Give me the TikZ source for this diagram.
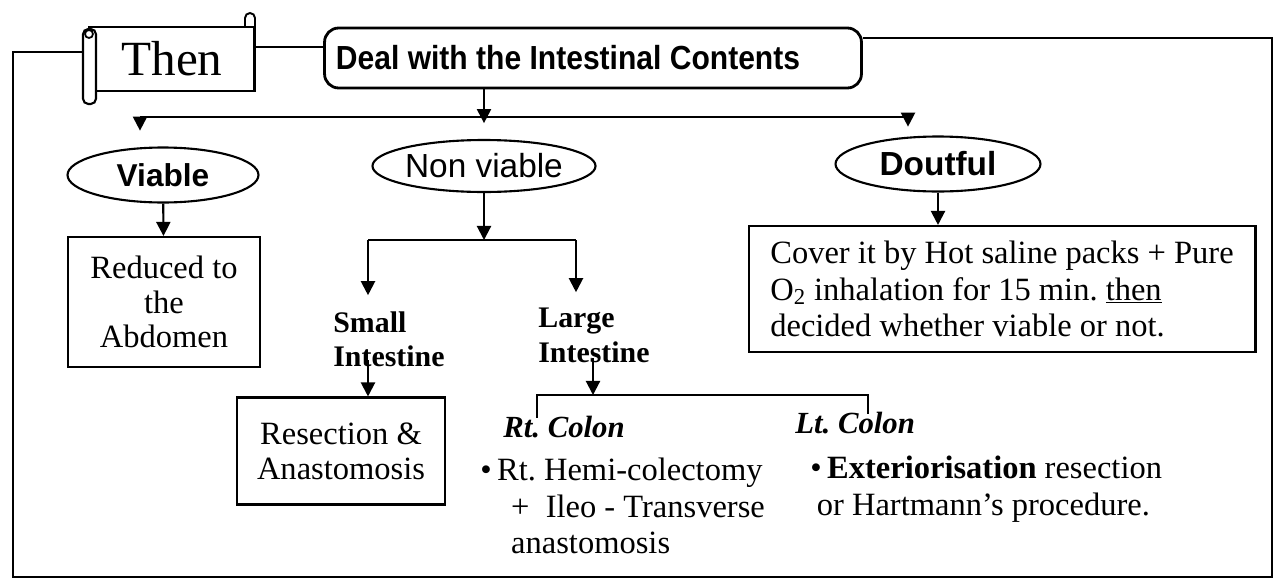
\documentclass[tikz,border=0pt]{standalone}
\usepackage{fontspec}
\setmainfont{Liberation Serif}
\newfontfamily\ovalfont{Liberation Sans}
\usetikzlibrary{shapes.geometric, arrows.meta, positioning}
\frenchspacing

\tikzset{
  frame/.style={line width=1.3pt},
  arr/.style={line width=1.2pt, -{Triangle[width=8pt,length=8pt]}},
  oval/.style={ellipse, draw, line width=1.2pt, inner sep=0pt,
    minimum width=3.82cm, minimum height=1.1cm,
    font=\ovalfont\bfseries\fontsize{18}{20}\selectfont},
  plainbox/.style={draw, line width=1.2pt, inner sep=0pt, align=center,
    font=\fontsize{18.5}{19.8}\selectfont},
  organ/.style={inner sep=0pt, anchor=north west, align=left,
    font=\bfseries\fontsize{17}{19.8}\selectfont},
  colon/.style={inner sep=0pt, anchor=base west,
    font=\bfseries\itshape\fontsize{17.5}{19.8}\selectfont},
  step text/.style={inner sep=0pt, anchor=north west, align=left,
    font=\fontsize{18.5}{20.6}\selectfont},
}

\begin{document}
\begin{tikzpicture}[x=0.02cm, y=-0.02cm]
    \useasboundingbox (0,0) rectangle (1277,585);

    % scroll with the word Then
    \node[draw, line width=1.2pt, minimum width=3.3cm, minimum height=1.28cm,
      inner sep=0pt, font=\fontsize{28}{30}\selectfont] (then) at (172,59) {Then};
    \draw[line width=1.2pt, fill=white, rounded corners=3pt] (83,29) rectangle (96,104);
    \draw[line width=1pt] (89,34) circle (4);
    \draw[line width=1.1pt] (245,27) -- (245,18) arc[start angle=180, end angle=360, radius=5] -- (255,27);

    \node[plainbox, rounded corners=8pt, minimum width=10.74cm, minimum height=1.2cm,
      line width=1.6pt] (deal) at (593,58)
      {\scalebox{0.9}[1]{\ovalfont\bfseries\fontsize{19}{21}\selectfont Deal with the Intestinal Contents}\hspace{1cm}};

    % outer frame
    \draw[frame] (83,52) -| (13,577) -| (1272,38) -- (deal.east |- 0,38);
    \draw[frame] (then.east |- 0,47) -- (deal.west |- 0,47);

    \node[oval] (viable) at (163,175) {Viable};
    \node[oval, minimum width=3.84cm, minimum height=1.04cm,
      font=\ovalfont\fontsize{19}{21}\selectfont] (nonviable) at (484,166) {Non viable};
    \node[oval, minimum width=4.1cm, font=\ovalfont\bfseries\fontsize{19}{21}\selectfont]
      (doubt) at (938,164) {Doutful};

    \coordinate (b1) at (140,117);
    \coordinate (b3) at (908,117);
    \draw[frame] (b1) -- (b3);
    \draw[arr, shorten >=9pt] (deal.south -| nonviable) -- (nonviable.north);
    \draw[arr, shorten >=9pt] (b1) -- (b1 |- viable.north);
    \draw[arr, shorten >=5pt] (b3) -- (b3 |- doubt.north);

    \node[plainbox, minimum width=3.84cm, minimum height=2.6cm] (reduced) at (164,302)
      {Reduced to\\the\\Abdomen};
    \draw[arr] (viable) -- (reduced);

    \node[plainbox, align=left, minimum width=10.14cm, minimum height=2.52cm,
      font=\fontsize{18.5}{20.6}\selectfont] (cover) at (1002,289)
      {Cover it by Hot saline packs + Pure\\
       O\textsubscript{2} inhalation for 15 min. \underline{then}\\
       decided whether viable or not.};
    \draw[arr] (doubt.south) -- (doubt.south |- cover.north);

    % non viable branch
    \coordinate (s1) at (368,240);
    \coordinate (s2) at (576,240);
    \draw[arr] (nonviable.south) -- (nonviable.south |- s1);
    \draw[frame] (s1) -- (s2);
    \node[organ] (small) at (333,311) {Small\\Intestine};
    \node[organ] (large) at (538,308) {Large\\Intestine};
    \draw[arr, shorten >=9pt] (s1) -- (s1 |- small.north);
    \draw[arr, shorten >=9pt] (s2) -- (s2 |- large.north);

    \node[plainbox, minimum width=4.16cm, minimum height=2.14cm] (resect) at (341,451)
      {Resection \&\\Anastomosis};
    \draw[arr] ([yshift=4pt]small.south -| s1) -- (s1 |- resect.north);

    % colon bar
    \coordinate (c1) at (537,395);
    \coordinate (c2) at (868,395);
    \coordinate (cm) at (593,395);
    \draw[arr] ([yshift=3pt]large.south -| cm) -- (cm);
    \draw[frame] ([yshift=-13pt]c1) |- (c2) -- ([yshift=-11pt]c2);

    \node[colon] (rt) at (503,437) {Rt. Colon};
    \node[colon] (lt) at (795,433) {Lt. Colon};

    \node[step text] (rtcare) at (480,458)
      {•\,Rt. Hemi-colectomy\\
       \hspace*{0.95em}+\ \ Ileo - Transverse\\
       \hspace*{0.95em}anastomosis};
    \node[step text] (ltcare) at (810,456)
      {•\,\textbf{Exteriorisation} resection\\
       \hspace*{0.2em}or Hartmann’s procedure.};
\end{tikzpicture}
\end{document}
